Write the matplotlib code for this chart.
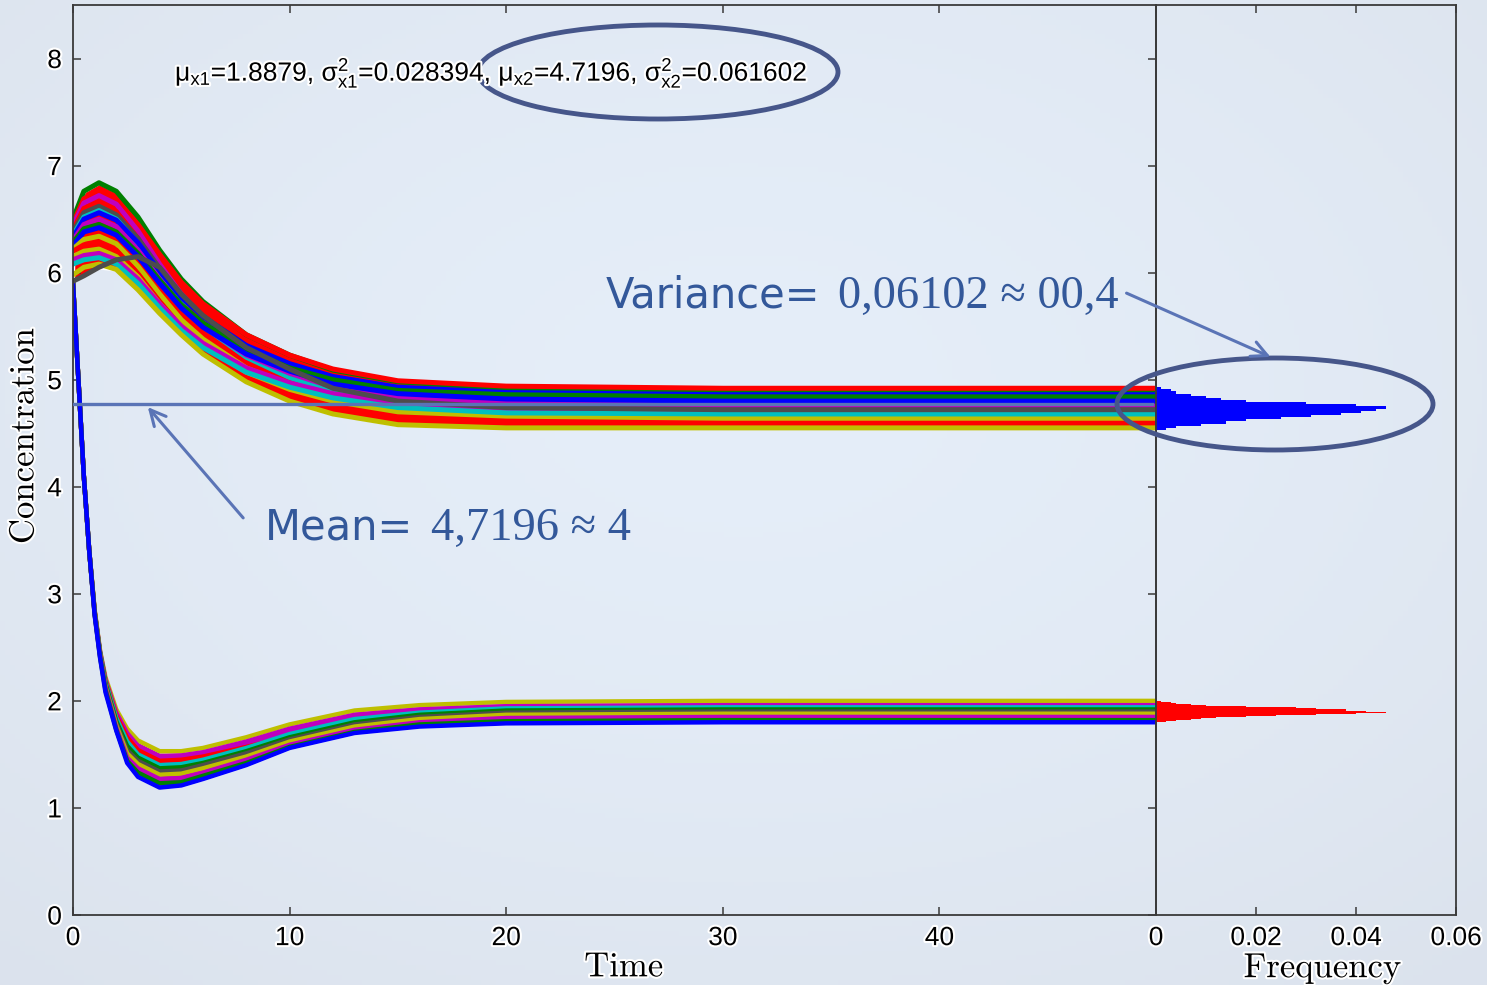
import numpy as np
import matplotlib.pyplot as plt
import matplotlib.patheffects as pe
from matplotlib.patches import Ellipse

plt.rcParams['mathtext.fontset'] = 'custom'
plt.rcParams['mathtext.rm'] = 'Liberation Sans'
plt.rcParams['mathtext.it'] = 'Liberation Sans'
plt.rcParams['mathtext.bf'] = 'Liberation Sans:bold'

# MATLAB's old colour order
C = {'b': (0, 0, 1), 'g': (0, 0.5, 0), 'r': (1, 0, 0), 'c': (0, 0.75, 0.75),
     'm': (0.75, 0, 0.75), 'y': (0.75, 0.75, 0), 'k': (0.3, 0.3, 0.3)}

# x2 trajectories (upper family), values read at these times
t_x2 = [0, 0.5, 1.2, 2, 3, 4, 5, 6, 8, 10, 12, 15, 20, 30, 50]
x2_colors = ['g', 'r', 'm', 'r', 'k', 'c', 'b', 'm', 'g', 'b', 'y', 'r', 'y', 'm', 'c', 'y', 'k']
x2_runs = [
    [6.50, 6.76, 6.84, 6.76, 6.52, 6.21, 5.94, 5.73, 5.42, 5.23, 5.09, 4.98, 4.92, 4.90, 4.90],
    [6.46, 6.69, 6.76, 6.68, 6.45, 6.17, 5.91, 5.71, 5.42, 5.23, 5.10, 4.99, 4.94, 4.92, 4.92],
    [6.44, 6.65, 6.72, 6.64, 6.39, 6.08, 5.80, 5.59, 5.28, 5.08, 4.94, 4.82, 4.76, 4.74, 4.74],
    [6.40, 6.60, 6.66, 6.57, 6.32, 6.00, 5.70, 5.48, 5.16, 4.95, 4.81, 4.68, 4.62, 4.60, 4.60],
    [6.38, 6.56, 6.62, 6.54, 6.32, 6.04, 5.79, 5.59, 5.31, 5.13, 5.00, 4.89, 4.84, 4.82, 4.82],
    [6.35, 6.52, 6.58, 6.50, 6.27, 5.97, 5.71, 5.50, 5.21, 5.02, 4.89, 4.78, 4.72, 4.70, 4.70],
    [6.33, 6.50, 6.56, 6.49, 6.28, 6.01, 5.77, 5.59, 5.32, 5.15, 5.03, 4.93, 4.88, 4.86, 4.86],
    [6.30, 6.45, 6.50, 6.43, 6.21, 5.94, 5.69, 5.50, 5.23, 5.06, 4.93, 4.83, 4.78, 4.76, 4.76],
    [6.28, 6.41, 6.45, 6.38, 6.18, 5.93, 5.70, 5.53, 5.28, 5.11, 5.00, 4.90, 4.86, 4.84, 4.84],
    [6.25, 6.38, 6.42, 6.35, 6.15, 5.90, 5.67, 5.49, 5.24, 5.08, 4.96, 4.87, 4.82, 4.80, 4.80],
    [6.22, 6.31, 6.34, 6.27, 6.06, 5.80, 5.56, 5.38, 5.11, 4.95, 4.83, 4.73, 4.68, 4.66, 4.66],
    [6.20, 6.26, 6.28, 6.21, 5.99, 5.73, 5.49, 5.30, 5.03, 4.86, 4.74, 4.64, 4.59, 4.57, 4.57],
    [6.15, 6.20, 6.22, 6.15, 5.96, 5.71, 5.49, 5.32, 5.07, 4.91, 4.80, 4.70, 4.66, 4.64, 4.64],
    [6.12, 6.16, 6.18, 6.12, 5.94, 5.71, 5.50, 5.34, 5.11, 4.97, 4.87, 4.78, 4.73, 4.72, 4.72],
    [6.08, 6.12, 6.14, 6.08, 5.90, 5.67, 5.46, 5.30, 5.07, 4.93, 4.83, 4.74, 4.69, 4.68, 4.68],
    [5.98, 6.05, 6.08, 6.03, 5.84, 5.62, 5.42, 5.24, 4.98, 4.80, 4.68, 4.58, 4.55, 4.55, 4.55],
    [5.92, 5.97, 6.05, 6.12, 6.15, 6.05, 5.80, 5.60, 5.30, 5.10, 4.92, 4.80, 4.74, 4.72, 4.72],
]

# x1 trajectories (lower family)
t_x1 = [0, 0.25, 0.5, 0.75, 1, 1.25, 1.5, 2, 2.5, 3, 4, 5, 6, 8, 10, 13, 16, 20, 30, 50]
x1_colors = ['y', 'm', 'r', 'c', 'g', 'k', 'y', 'm', 'g', 'b']
x1_runs = [
    [5.90, 5.0, 4.1, 3.4, 2.85, 2.47, 2.22, 1.92, 1.74, 1.63, 1.53, 1.53, 1.56, 1.66, 1.78, 1.91, 1.96, 1.99, 2.00, 2.00],
    [5.90, 5.0, 4.1, 3.4, 2.84, 2.46, 2.20, 1.89, 1.70, 1.58, 1.48, 1.49, 1.52, 1.62, 1.74, 1.87, 1.92, 1.95, 1.96, 1.96],
    [5.90, 5.0, 4.1, 3.4, 2.84, 2.45, 2.19, 1.86, 1.66, 1.54, 1.44, 1.45, 1.48, 1.57, 1.67, 1.76, 1.80, 1.82, 1.83, 1.83],
    [5.90, 5.0, 4.1, 3.4, 2.83, 2.45, 2.18, 1.84, 1.62, 1.50, 1.40, 1.41, 1.45, 1.56, 1.69, 1.83, 1.89, 1.93, 1.94, 1.94],
    [5.90, 5.0, 4.1, 3.4, 2.83, 2.44, 2.16, 1.81, 1.58, 1.47, 1.37, 1.38, 1.42, 1.53, 1.66, 1.80, 1.87, 1.91, 1.92, 1.92],
    [5.90, 5.0, 4.1, 3.4, 2.82, 2.44, 2.15, 1.79, 1.54, 1.44, 1.34, 1.35, 1.40, 1.51, 1.64, 1.78, 1.85, 1.89, 1.90, 1.90],
    [5.90, 5.0, 4.1, 3.4, 2.82, 2.43, 2.13, 1.77, 1.51, 1.41, 1.31, 1.32, 1.37, 1.48, 1.62, 1.76, 1.83, 1.87, 1.88, 1.88],
    [5.90, 5.0, 4.1, 3.4, 2.81, 2.42, 2.12, 1.75, 1.47, 1.37, 1.27, 1.28, 1.33, 1.45, 1.59, 1.73, 1.80, 1.84, 1.85, 1.85],
    [5.90, 5.0, 4.1, 3.4, 2.81, 2.41, 2.10, 1.73, 1.44, 1.33, 1.23, 1.24, 1.30, 1.42, 1.57, 1.71, 1.78, 1.81, 1.82, 1.82],
    [5.90, 5.0, 4.1, 3.4, 2.80, 2.40, 2.08, 1.72, 1.42, 1.29, 1.19, 1.21, 1.27, 1.40, 1.56, 1.70, 1.76, 1.79, 1.80, 1.80],
]

# final-state histograms
x2_bins = [4.54, 4.56, 4.58, 4.60, 4.62, 4.64, 4.66, 4.68, 4.70, 4.72,
           4.74, 4.76, 4.78, 4.80, 4.82, 4.84, 4.86, 4.88, 4.90, 4.92]
x2_freq = [0.002, 0.004, 0.009, 0.014, 0.018, 0.025, 0.031, 0.037, 0.041, 0.044,
           0.046, 0.040, 0.030, 0.018, 0.013, 0.010, 0.007, 0.004, 0.003, 0.001]
x1_bins = [1.805, 1.815, 1.825, 1.835, 1.845, 1.855, 1.865, 1.875, 1.885, 1.895,
           1.905, 1.915, 1.925, 1.935, 1.945, 1.955, 1.965, 1.975, 1.985, 1.995]
x1_freq = [0.002, 0.004, 0.007, 0.009, 0.012, 0.018, 0.024, 0.032, 0.040, 0.046,
           0.042, 0.038, 0.032, 0.028, 0.018, 0.010, 0.007, 0.004, 0.003, 0.001]

stats_text = (r'$\mathrm{\mu_{x1}}$=1.8879, $\mathrm{\sigma^2_{x1}}$=0.028394, '
              r'$\mathrm{\mu_{x2}}$=4.7196, $\mathrm{\sigma^2_{x2}}$=0.061602')
mean_line = 4.77

halo = [pe.withStroke(linewidth=3, foreground='white')]

fig = plt.figure(figsize=(14.87, 9.85), dpi=100)

# slide background
bg = fig.add_axes([0, 0, 1, 1], zorder=-10)
yy, xx = np.mgrid[0:1:200j, 0:1:300j]
r = np.sqrt(((xx - 0.5) / 0.75) ** 2 + ((yy - 0.4) / 0.75) ** 2)
c0 = np.array([0.898, 0.933, 0.976])
c1 = np.array([0.862, 0.890, 0.930])
img = c0 + (c1 - c0) * np.clip(r, 0, 1)[..., None] ** 1.5
bg.imshow(img, aspect='auto', extent=[0, 1, 0, 1], origin='upper')
bg.axis('off')

ax = fig.add_axes([73 / 1487, 1 - 915 / 985, 1083 / 1487, 910 / 985])
axh = fig.add_axes([1156 / 1487, 1 - 915 / 985, 300 / 1487, 910 / 985])
for a in (ax, axh):
    a.set_facecolor('none')
    a.set_ylim(0, 8.5)
    for s in a.spines.values():
        s.set_color('#3a3a3a')
        s.set_linewidth(1.3)
    a.tick_params(direction='in', length=6, width=1.1, color='#3a3a3a',
                  labelsize=19, top=True, pad=8)

# envelopes with white rim, then the runs
x2_arr = np.array(x2_runs)
x1_arr = np.array(x1_runs)
ax.fill_between(t_x2, x2_arr.min(axis=0), x2_arr.max(axis=0), color='red',
                edgecolor='white', linewidth=2.5, zorder=1)
ax.fill_between(t_x1, x1_arr.min(axis=0), x1_arr.max(axis=0), color=C['m'],
                edgecolor='white', linewidth=2.5, zorder=1)
for col, run in zip(x1_colors, x1_runs):
    ax.plot(t_x1, run, color=C[col], lw=3.2, solid_joinstyle='round', zorder=2)
for col, run in zip(x2_colors, x2_runs):
    ax.plot(t_x2, run, color=C[col], lw=3.6, solid_joinstyle='round', zorder=2)

ax.set_xlim(0, 50)
ax.set_xticks([0, 10, 20, 30, 40])
ax.set_yticks(range(0, 9))
ax.tick_params(right=True)

axh.barh(x2_bins, x2_freq, height=0.02, color='blue', linewidth=0)
axh.barh(x1_bins, x1_freq, height=0.01, color='red', linewidth=0)
axh.set_xlim(0, 0.06)
axh.set_xticks([0, 0.02, 0.04, 0.06])
axh.set_xticklabels(['0', '0.02', '0.04', '0.06'])
axh.set_yticks([])

for lab in ax.get_xticklabels() + ax.get_yticklabels() + axh.get_xticklabels():
    lab.set_fontfamily('Liberation Sans')
    lab.set_path_effects(halo)

ax.set_xlabel(r'$\mathrm{Time}$', math_fontfamily='cm', fontsize=25)
ax.xaxis.set_label_coords(0.509, -0.038)
ax.set_ylabel(r'$\mathrm{Concentration}$', math_fontfamily='cm', fontsize=25)
ax.yaxis.set_label_coords(-0.03, 0.527)
axh.set_xlabel(r'$\mathrm{Frequency}$', math_fontfamily='cm', fontsize=25)
axh.xaxis.set_label_coords(0.557, -0.040)
for lab in (ax.xaxis.label, ax.yaxis.label, axh.xaxis.label):
    lab.set_path_effects(halo)

# mean line
ax.plot([0, 49.8], [mean_line, mean_line], color='#5a74b6', lw=2.4, zorder=5)

# overlay in pixel coordinates for the slide annotations
ov = fig.add_axes([0, 0, 1, 1], zorder=10)
ov.set_xlim(0, 1487)
ov.set_ylim(985, 0)
ov.axis('off')
ov.text(175, 73, stats_text, fontsize=19, family='Liberation Sans', va='center',
        path_effects=halo)
ov.add_patch(Ellipse((658, 72), 360, 94, fill=False, ec='#46568a', lw=3.5))
ov.add_patch(Ellipse((1275, 404), 316, 92, fill=False, ec='#46568a', lw=3.5))
ov.annotate('', xy=(146, 405), xytext=(245, 520),
            arrowprops=dict(arrowstyle='->', color='#5a74b6', lw=2.2, mutation_scale=28))
ov.annotate('', xy=(1273, 358), xytext=(1124, 292),
            arrowprops=dict(arrowstyle='->', color='#5a74b6', lw=2.2, mutation_scale=28))

blue_txt = '#33589a'
serif = ['Liberation Serif', 'DejaVu Serif']
ov.text(265, 540, 'Mean=', fontsize=30, family='DejaVu Sans', color=blue_txt, va='baseline')
ov.text(431, 540, '4,7196 \u2248 4', fontsize=33.5, family=serif, color=blue_txt, va='baseline')
ov.text(606, 308, 'Variance=', fontsize=30, family='DejaVu Sans', color=blue_txt, va='baseline')
ov.text(838, 308, '0,06102 \u2248 00,4', fontsize=33.5, family=serif, color=blue_txt, va='baseline')

fig.savefig('out.png', dpi=100)
